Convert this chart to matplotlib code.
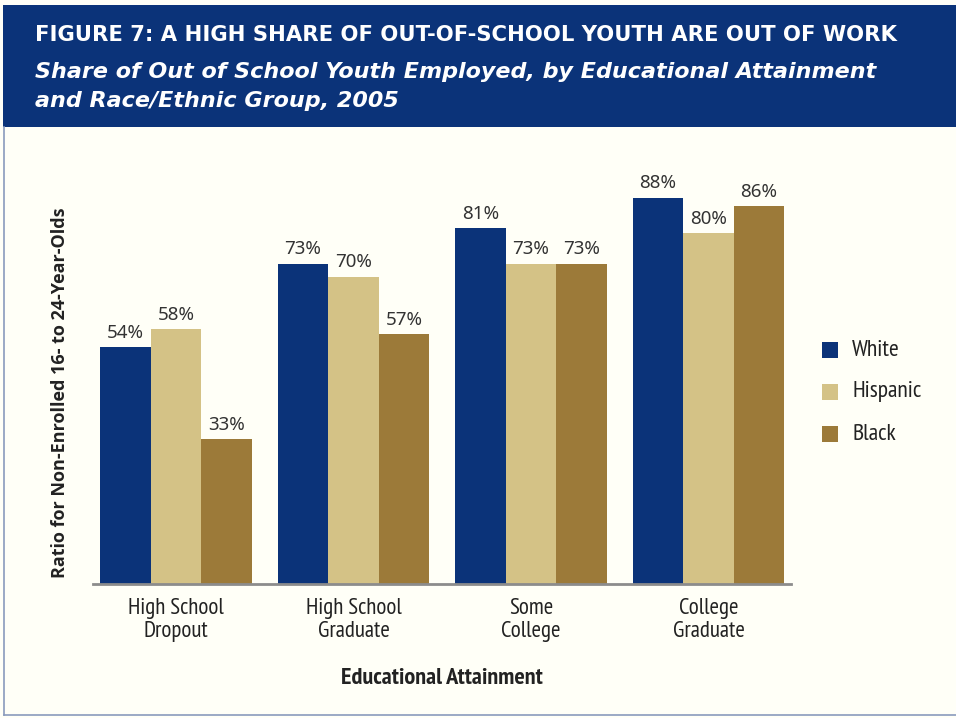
import matplotlib.pyplot as plt
import numpy as np
from matplotlib.patches import Rectangle
from matplotlib.lines import Line2D
from matplotlib import font_manager

# education levels and employment shares by group (percent)
levels = ["High School\nDropout", "High School\nGraduate", "Some\nCollege", "College\nGraduate"]
white = [54, 73, 81, 88]
hispanic = [58, 70, 73, 80]
black = [33, 57, 73, 86]
groups = ["White", "Hispanic", "Black"]

navy = "#0b3379"
tan = "#d4c286"
brown = "#9c7a39"
paper = "#fffff7"

installed = {f.name for f in font_manager.fontManager.ttflist}


def pick(*cands):
    for c in cands:
        if c in installed:
            return c
    return "DejaVu Sans"


narrow = pick("PT Sans Narrow", "Roboto Condensed", "Fira Sans Condensed", "Liberation Sans Narrow")
body = pick("Noto Sans", "DejaVu Sans")
side = pick("Open Sans", "Noto Sans")

W, H = 956, 718
fig = plt.figure(figsize=(W / 100, H / 100), dpi=100)
fig.patch.set_facecolor(paper)

# header band
fig.patches.append(Rectangle((3 / W, 1 - 127 / H), 1, 122 / H, transform=fig.transFigure,
                             facecolor=navy, edgecolor="none", zorder=0))
fig.text(35 / W, 1 - 35 / H, "FIGURE 7: A HIGH SHARE OF OUT-OF-SCHOOL YOUTH ARE OUT OF WORK",
         color="white", fontsize=15.2, fontweight="bold", family="DejaVu Sans",
         va="center", ha="left")
fig.text(35 / W, 1 - 72 / H, "Share of Out of School Youth Employed, by Educational Attainment",
         color="white", fontsize=16, fontweight="bold", style="italic", family="DejaVu Sans",
         va="center", ha="left")
fig.text(35 / W, 1 - 101 / H, "and Race/Ethnic Group, 2005",
         color="white", fontsize=16, fontweight="bold", style="italic", family="DejaVu Sans",
         va="center", ha="left")

# frame lines on left and bottom
frame = "#8a9bbd"
fig.lines.append(Line2D([3.5 / W, 3.5 / W], [1 - 127 / H, 1 - 715 / H], transform=fig.transFigure,
                        color=frame, lw=1.2))
fig.lines.append(Line2D([3.5 / W, 1], [1 - 715 / H, 1 - 715 / H], transform=fig.transFigure,
                        color=frame, lw=1.2))

ax = fig.add_axes([93 / W, 1 - 584 / H, (791 - 93) / W, 439 / H])
ax.set_facecolor("none")

x = np.arange(len(levels))
bw = 0.285
for k, (vals, col) in enumerate(zip([white, hispanic, black], [navy, tan, brown])):
    pos = x + (k - 1) * bw
    ax.bar(pos, vals, width=bw, color=col, label=groups[k])
    for px, v in zip(pos, vals):
        ax.text(px, v + 1.2, f"{v}%", ha="center", va="bottom", fontsize=13.5,
                color="#333333", family=body)

ax.set_xlim(-0.468, 3.465)
ax.set_ylim(0, 100)
ax.set_yticks([])
ax.set_xticks(x)
ax.set_xticklabels(levels, fontsize=16.5, family=narrow, color="#222222", linespacing=1.12)
ax.tick_params(axis="x", length=0, pad=10)
for s in ["top", "right", "left"]:
    ax.spines[s].set_visible(False)
ax.spines["bottom"].set_color("#8c8c8c")
ax.spines["bottom"].set_linewidth(2)

ax.set_xlabel("Educational Attainment", fontsize=17.5, fontweight="bold", family=narrow,
              color="#222222", labelpad=19)
fig.text(60 / W, 1 - 393 / H, "Ratio for Non-Enrolled 16- to 24-Year-Olds", rotation=90,
         fontsize=13, fontweight="bold", family=side, color="#222222", ha="center", va="center")

# legend
for i, (g, col) in enumerate(zip(groups, [navy, tan, brown])):
    yy = 1 - (350 + 42 * i) / H
    fig.patches.append(Rectangle((822 / W, yy - 8 / H), 16 / W, 16 / H, transform=fig.transFigure,
                                 facecolor=col, edgecolor="none"))
    fig.text(852 / W, yy, g, fontsize=17, family=narrow, color="#222222", va="center")

fig.savefig("out.png", dpi=100, facecolor=paper)
